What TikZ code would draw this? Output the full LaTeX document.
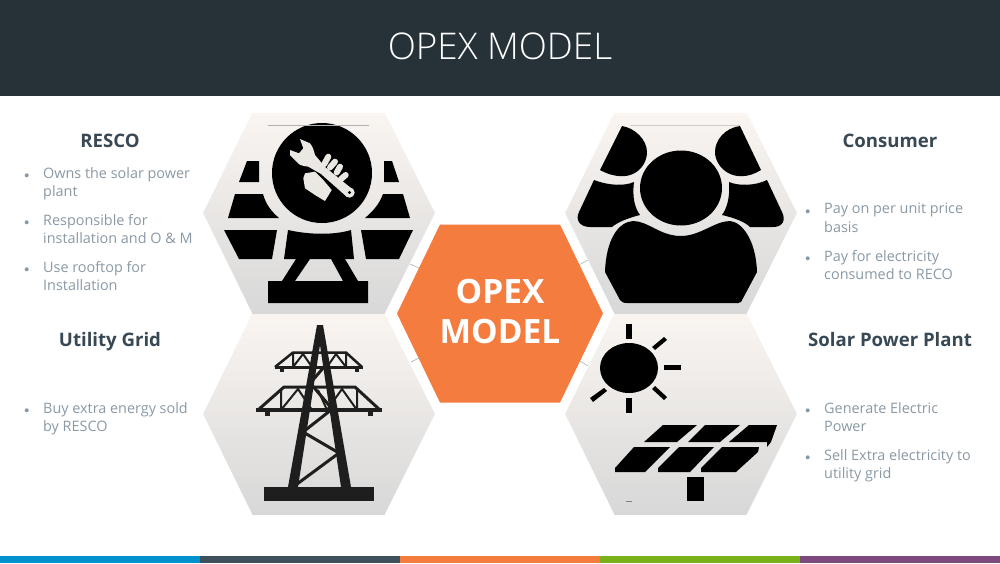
\documentclass[tikz,border=0pt]{standalone}
\usepackage{fontspec}
\setmainfont{Open Sans}
\newfontfamily\lightf{Open Sans Light}
\usetikzlibrary{calc}
\definecolor{bandc}{RGB}{38,50,56}
\definecolor{headc}{RGB}{56,72,84}
\definecolor{bulc}{RGB}{139,153,165}
\definecolor{orc}{RGB}{243,124,62}
\definecolor{iconk}{RGB}{0,0,0}
\definecolor{towerc}{RGB}{30,30,30}
\definecolor{hexa}{RGB}{250,245,241}
\definecolor{hexb}{RGB}{216,216,216}
\definecolor{wrc}{RGB}{235,232,228}
\definecolor{c1}{RGB}{0,146,204}
\definecolor{c2}{RGB}{62,80,92}
\definecolor{c3}{RGB}{243,124,62}
\definecolor{c4}{RGB}{122,176,26}
\definecolor{c5}{RGB}{126,74,126}
\tikzset{
 x=1pt,y=-1pt,
 head/.style={font=\fontsize{18.6}{23}\selectfont\bfseries,text=headc,anchor=base,inner sep=0},
 bull/.style={font=\fontsize{14.4}{18.3}\selectfont,text=bulc,anchor=north west,align=left,inner sep=0},
 dot/.style={circle,fill=bulc,minimum size=4pt,inner sep=0,draw=none},
 hexf/.style={top color=hexa,bottom color=hexb,draw=none},
 ik/.style={fill=iconk,draw=none},
 tw/.style={draw=towerc,line join=miter},
 tick/.style={draw=gray!70,line width=0.5pt},
 fing/.style={draw=wrc,line width=6pt,line cap=round}
}
\newcommand{\bitem}[3]{\node[dot] (d#3) at ($(#1)+(2.7,8.3)$) {};\node[bull] (t#3) at ($(#1)+(19,0)$) {#2};}
\newcommand{\hexa}[2]{%
 \shade[hexf] ($(#1,#2)+(-116,-100)$) rectangle ($(#1,#2)+(116,100)$);
 \fill[white] ($(#1,#2)+(-117,-101)$) -- ($(#1,#2)+(-67,-101)$) -- ($(#1,#2)+(-67,-100)$) -- ($(#1,#2)+(-116,0)$) -- ($(#1,#2)+(-67,100)$) -- ($(#1,#2)+(-67,101)$) -- ($(#1,#2)+(-117,101)$) -- cycle;
 \fill[white] ($(#1,#2)+(117,-101)$) -- ($(#1,#2)+(66,-101)$) -- ($(#1,#2)+(66,-100)$) -- ($(#1,#2)+(116,0)$) -- ($(#1,#2)+(66,100)$) -- ($(#1,#2)+(66,101)$) -- ($(#1,#2)+(117,101)$) -- cycle;}
\begin{document}
\begin{tikzpicture}
\useasboundingbox (0,0) rectangle (1000,563);
\fill[white] (0,0) rectangle (1000,563);
\fill[bandc] (0,0) rectangle (1000,96);
\node[text=white,font=\lightf\fontsize{36.8}{40}\selectfont,inner sep=0] (title) at (500,46) {OPEX MODEL};
\fill[c1] (0,555.5) rectangle (200,563);
\fill[c2] (200,555.5) rectangle (400,563);
\fill[c3] (400,555.5) rectangle (600,563);
\fill[c4] (600,555.5) rectangle (800,563);
\fill[c5] (800,555.5) rectangle (1000,563);
% hexagons
\hexa{319}{213}
\hexa{681}{213}
\hexa{319}{414}
\hexa{681}{414}
% RESCO icon
\fill[ik] (322,173) circle (50);
\fill[ik] (247,161) -- (259,161) -- (259,182) -- (239,182) -- cycle;
\fill[ik] (384,161) -- (392,161) -- (399,182) -- (384,182) -- cycle;
\fill[ik] (235,194) -- (263,194) .. controls (266,205) and (272,212) .. (279,218) -- (228,218) -- cycle;
\fill[ik] (383,194) -- (403,194) -- (410,218) -- (365,218) .. controls (372,212) and (379,205) .. (383,194) -- cycle;
\fill[ik] (224,230) -- (277,230) -- (272,259) -- (239,259) -- cycle;
\fill[ik] (361,230) -- (413,230) -- (399,259) -- (366,259) -- cycle;
\fill[ik] (288,230) .. controls (310,235) and (335,235) .. (351,230) -- (354,259) -- (284,259) -- cycle;
\fill[ik] (296,259) -- (310,259) -- (295,281) -- (343,281) -- (331,259) -- (345,259) -- (358,281) -- (368,281) -- (368,303) -- (268,303) -- (268,281) -- (282,281) -- cycle;
% wrench and hand
\fill[wrc] (300,139) -- (310,143.3) .. controls (313,147) and (314,151) .. (315,155) -- (325,167) -- (351,188) -- (347,197) -- (321,174) -- (308.3,166.7) .. controls (303,166) and (299,165) .. (298.3,163.3) -- (290,155) -- (290,150) -- (299,153.3) -- (303.3,148.3) -- cycle;
\fill[wrc] (349.5,192.5) circle (5.2);
\fill[iconk] (349.5,192.5) circle (1.7);
\draw[fing] (324.3,164) -- (328.3,156.7);
\draw[fing] (330,167.5) -- (335,161.7);
\draw[fing] (336.7,172.5) -- (340,166.7);
\draw[fing] (341,179) -- (345.7,175);
\fill[wrc] (303.3,178.3) -- (305,173.3) -- (315,171.7) -- (323.3,180) -- (331.7,190) -- (325,201) -- (315,195) -- (305,188.3) -- cycle;
% Consumer icon
\fill[ik] (622,126) .. controls (635,128) and (647,140) .. (647,152) .. controls (647,168) and (630,186) .. (600,170) -- cycle;
\fill[ik] (740,126) .. controls (725,128) and (715,140) .. (715,152) .. controls (715,168) and (735,186) .. (761,170) -- cycle;
\fill[ik] (594,180) .. controls (610,186) and (625,186) .. (634,182) .. controls (632,198) and (635,208) .. (640,215) .. controls (628,218) and (618,222) .. (612,227) -- (590,227) .. controls (580,227) and (575,220) .. (579,212) -- cycle;
\fill[ik] (767,180) .. controls (755,186) and (738,186) .. (729,182) .. controls (730,198) and (727,208) .. (722,215) .. controls (735,218) and (745,222) .. (750,227) -- (773,227) .. controls (783,227) and (786,220) .. (782,212) -- cycle;
\fill[ik] (681,188) ellipse (41 and 37.5);
\fill[ik] (633,221) .. controls (648,221) and (660,236) .. (681,236) .. controls (700,236) and (715,221) .. (730,221) .. controls (742,222) and (756,240) .. (757,272) -- (741,302) .. controls (739,304) and (736,303) .. (734,303) -- (627,303) .. controls (623,303) and (622,302) .. (620,300) -- (605,272) .. controls (606,240) and (618,222) .. (633,221) -- cycle;
% tower
\begin{scope}[tw]
\fill[towerc] (317,325) -- (323,325) -- (351,487) -- (341,487) -- (320,345) -- (298,487) -- (288,487) -- cycle;
\fill[towerc] (264,487) rectangle (374,501);
\draw[line width=2.5pt] (275,367) -- (293,352.5) -- (346,352.5) -- (362,367);
\draw[line width=3pt] (275,367) -- (363,367);
\draw[line width=2pt] (293,367) -- (293,354) (293,367) -- (303,354) -- (312,367) (346,367) -- (346,354) (346,367) -- (336,354) -- (327,367);
\fill[towerc] (280,367) rectangle (284,372);
\fill[towerc] (355,367) rectangle (359,372);
\draw[line width=3pt] (258,410) -- (284,387) -- (355,387) -- (380,410);
\draw[line width=3.5pt] (256,410) -- (382,410);
\draw[line width=2pt] (281,410) -- (281,389) (281,410) -- (298,389) -- (312,410) (357,410) -- (357,389) (357,410) -- (342,389) -- (327,410) -- (318,390);
\fill[towerc] (265,410) rectangle (270,416);
\fill[towerc] (368,410) rectangle (373,416);
\draw[line width=3pt] (312,381) -- (324,367) (311,384) -- (333,410);
\draw[line width=3pt] (331,410) -- (303,432) -- (339,453) -- (293,487);
\end{scope}
% solar
\fill[ik] (629,368) ellipse (29 and 25);
\fill[ik] (626,324) rectangle (632,339);
\fill[ik] (626,398) rectangle (632,413);
\fill[ik] (664,365) rectangle (681,370);
\fill[ik] (652,347) -- (664,337) -- (667,340) -- (655,350) -- cycle;
\fill[ik] (652,389) -- (655,386) -- (667,397) -- (664,400) -- cycle;
\fill[ik] (590,398) -- (604,388) -- (607,391) -- (593,402) -- cycle;
\fill[ik] (663,425) -- (697,425) -- (677,442) -- (644,442) -- cycle;
\fill[ik] (705,425) -- (740,425) -- (720,442) -- (688,442) -- cycle;
\fill[ik] (749,425) -- (777,425) -- (771,442) -- (767,447) -- (767,442) -- (729,442) -- cycle;
\fill[ik] (634,447) -- (670,447) -- (645,472) -- (615,472) -- (615,468) -- cycle;
\fill[ik] (679,447) -- (714,447) -- (690,472) -- (658,472) -- (658,468) -- cycle;
\fill[ik] (722,447) -- (759,447) -- (758,452) -- (736,472) -- (701,472) -- (701,468) -- cycle;
\fill[ik] (687,477) rectangle (704,501);
\fill[gray] (626,501) rectangle (632,502);
% center
\fill[white] (389,313.5) -- (436,217) -- (564,217) -- (611,313.5) -- (564,410) -- (436,410) -- cycle;
\fill[orc] (397,313.5) -- (440,224.5) -- (560,224.5) -- (603,313.5) -- (560,402.5) -- (440,402.5) -- cycle;
\node[text=white,font=\fontsize{33.5}{40}\selectfont\bfseries,align=center,inner sep=0] (ctrt) at (500,312) {OPEX\\MODEL};
\draw[tick] (410,264) -- (419,268);
\draw[tick] (411,362) -- (419,358);
\draw[tick] (579,265) -- (588,260);
\draw[tick] (580,361) -- (588,366);
\draw[gray!60,line width=0.5pt] (268,125) -- (369,125);
\draw[gray!40,line width=0.5pt] (630,125) -- (740,125);
% texts
\node[head] (h1) at (110,147.5) {RESCO};
\bitem{24,167}{Owns the solar power\\plant}{a}
\bitem{24,214}{Responsible for\\installation and O \& M}{b}
\bitem{24,261}{Use rooftop for\\Installation}{c}
\node[head] (h2) at (110,346.5) {Utility Grid};
\bitem{24,402}{Buy extra energy sold\\by RESCO}{d}
\node[head] (h3) at (890,147.5) {Consumer};
\bitem{805,203}{Pay on per unit price\\basis}{e}
\bitem{805,250}{Pay for electricity\\consumed to RECO}{f}
\node[head] (h4) at (890,346.5) {Solar Power Plant};
\bitem{805,402}{Generate Electric\\Power}{g}
\bitem{805,449}{Sell Extra electricity to\\utility grid}{h}
\end{tikzpicture}
\end{document}
